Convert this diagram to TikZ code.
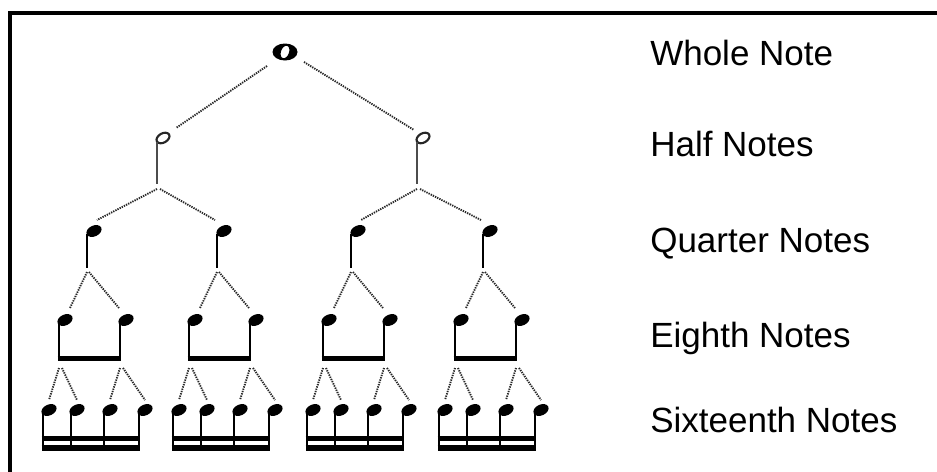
\documentclass[tikz,border=0pt]{standalone}
\usepackage{fontspec}
\setmainfont{Liberation Sans}
\usetikzlibrary{calc}
\tikzset{
  link/.style={black!85, line width=1.4pt, dash pattern=on 1pt off 0.8pt},
  hstem/.style={black!70, line width=1.4pt},
  stem/.style={black, line width=2pt},
  beam/.style={black, line width=4pt},
  beama/.style={black, line width=3.4pt},
  beamb/.style={black, line width=4pt},
  frame/.style={black, line width=3.4pt, line join=miter},
  lbl/.style={anchor=base west, font=\fontsize{26.25}{30}\selectfont, inner sep=0pt},
  fillhead/.pic={\fill (0,0) circle [x radius=8, y radius=5.4, rotate=25];},
  halfhead/.pic={\draw[black!85, line width=1.6pt] (0,0) circle [x radius=7, y radius=4.6, rotate=30];},
  wholehead/.pic={\fill[even odd rule] (0,0) circle [x radius=12.5, y radius=8.5] (0,0) circle [x radius=4, y radius=6.5, rotate=-20];},
}
\begin{document}
\begin{tikzpicture}[x=0.75pt,y=-0.75pt]
\useasboundingbox (0,0) rectangle (937,471);
\draw[frame] (10,480) -- (10,13) -- (945,13);

% whole note
\coordinate (W) at (285,52);
\pic at (W) {wholehead};

% half notes
\foreach \h/\hx in {1/163, 2/423} {
  \coordinate (H\h) at (\hx,138);
  \pic at (H\h) {halfhead};
  \draw[hstem] ({\hx-6},142) -- ({\hx-6},184) coordinate (H\h-b);
}
\draw[link] ($(W)+(-18,14)$) -- ($(H1)+(13,-10)$);
\draw[link] ($(W)+(19,10)$) -- ($(H2)+(-9,-8)$);

% quarters, eighths, sixteenths
\foreach \q/\qx/\p/\a/\b in {1/87/1/0/3, 2/217/1/3/-9, 3/351/2/0/3, 4/483/2/3/-9} {
  \coordinate (Q\q) at ({\qx+7},231);
  \pic at (Q\q) {fillhead};
  \draw[stem] ({\qx},234) -- ({\qx},268) coordinate (Q\q-b);
  \draw[link] ($(H\p-b)+(\a,5)$) -- ($(Q\q)+(\b,-11)$);
  \foreach \e/\eo/\c/\d/\so/\st in {1/-28/5/0/-16/12, 2/33/-7/2/-16/19} {
    \coordinate (E\q-\e) at ({\qx+\eo+6},320);
    \pic at (E\q-\e) {fillhead};
    \draw[stem] ({\qx+\eo},323) -- ({\qx+\eo},361) coordinate (E\q-\e-b);
    \draw[link] ($(Q\q-b)+(\d,4)$) -- ($(E\q-\e)+(\c,-12)$);
    \foreach \s/\sx in {1/\so, 2/\st} {
      \coordinate (S\q-\e-\s) at ({\qx+\eo+\sx+6},410);
      \pic at (S\q-\e-\s) {fillhead};
      \draw[stem] ({\qx+\eo+\sx},413) -- ({\qx+\eo+\sx},451) coordinate (S\q-\e-\s-b);
    }
    \draw[link] ($(E\q-\e-b)+(0,7)$) -- ($(S\q-\e-1)+(0,-10)$);
    \draw[link] ($(E\q-\e-b)+(3,7)$) -- ($(S\q-\e-2)+(0,-10)$);
  }
  \draw[beam] ($(E\q-1-b)+(-1.3,-2.5)$) -- ($(E\q-2-b)+(1.3,-2.5)$);
  \draw[beama] ($(S\q-1-1-b)+(-1.3,-12.5)$) -- ($(S\q-2-2-b)+(1.3,-12.5)$);
  \draw[beamb] ($(S\q-1-1-b)+(-1.3,-3)$) -- ($(S\q-2-2-b)+(1.3,-3)$);
}

% labels
\node[lbl] (lw) at (650,65) {Whole Note};
\node[lbl] (lh) at (650,156) {Half Notes};
\node[lbl] (lq) at (650,252) {Quarter Notes};
\node[lbl] (le) at (650,347) {Eighth Notes};
\node[lbl] (ls) at (650,432) {Sixteenth Notes};
\end{tikzpicture}
\end{document}
